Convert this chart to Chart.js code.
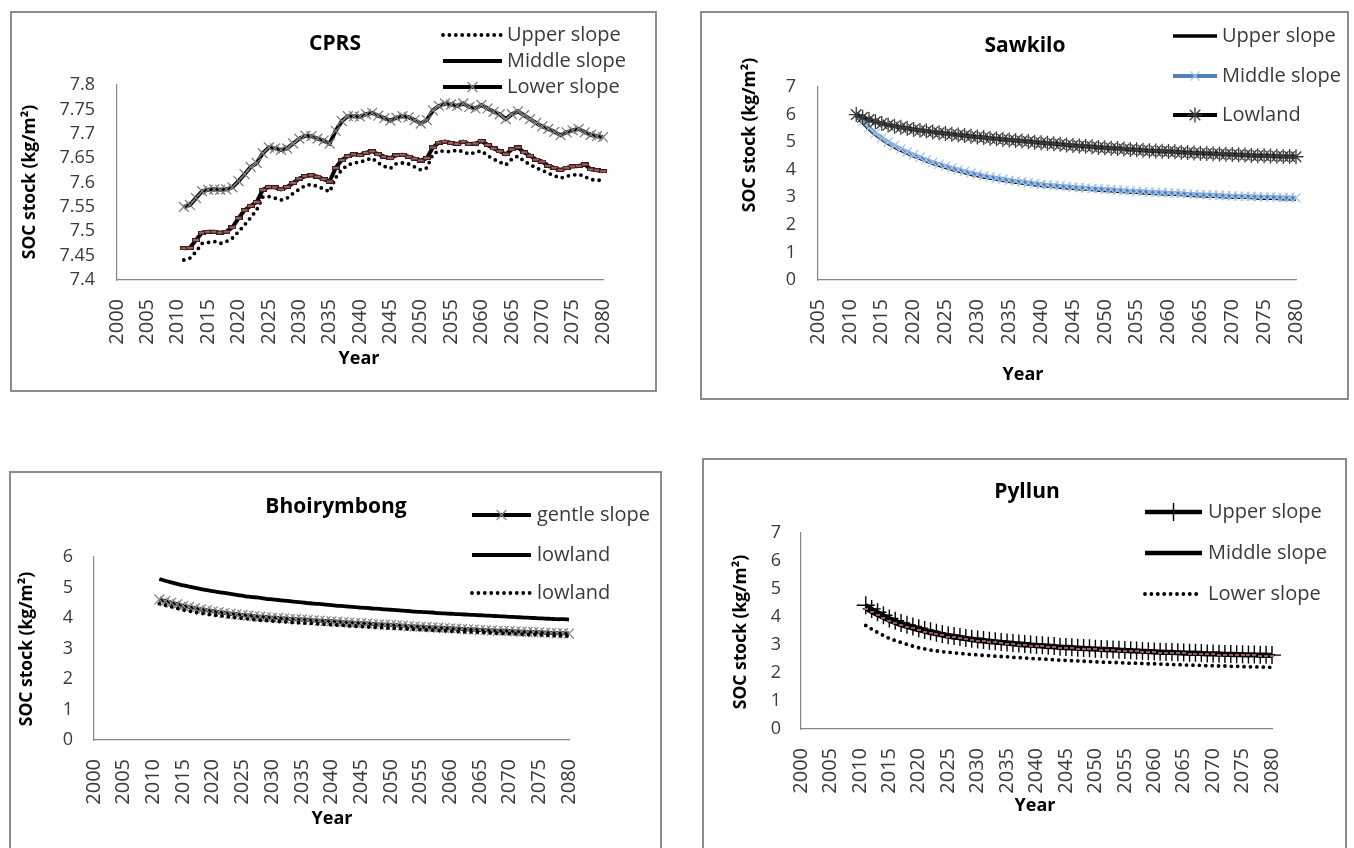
<!DOCTYPE html>
<html><head><meta charset="utf-8">
<script src="https://cdn.jsdelivr.net/npm/chart.js@4.4.1/dist/chart.umd.min.js"></script>
<style>
html,body{margin:0;padding:0;background:#fff;width:1354px;height:848px;overflow:hidden;position:relative;}
.frame{position:absolute;border:2px solid #8c8c8c;box-sizing:border-box;}
canvas{position:absolute;}
</style></head><body>
<script>
// ---------------- DATA ----------------
const years = [2011,2012,2013,2014,2015,2016,2017,2018,2019,2020,
2021,2022,2023,2024,2025,2026,2027,2028,2029,2030,
2031,2032,2033,2034,2035,2036,2037,2038,2039,2040,
2041,2042,2043,2044,2045,2046,2047,2048,2049,2050,
2051,2052,2053,2054,2055,2056,2057,2058,2059,2060,
2061,2062,2063,2064,2065,2066,2067,2068,2069,2070,
2071,2072,2073,2074,2075,2076,2077,2078,2079,2080];

// CPRS
const cprsUpper = [7.441,7.445,7.458,7.475,7.477,7.479,7.475,7.479,7.486,7.499,
7.513,7.528,7.544,7.570,7.571,7.568,7.564,7.568,7.578,7.586,
7.594,7.596,7.592,7.587,7.581,7.610,7.626,7.636,7.640,7.642,
7.646,7.650,7.640,7.633,7.629,7.639,7.640,7.638,7.632,7.626,
7.630,7.658,7.665,7.664,7.663,7.667,7.663,7.658,7.662,7.665,
7.655,7.648,7.642,7.636,7.648,7.654,7.644,7.637,7.630,7.625,
7.619,7.614,7.609,7.613,7.615,7.617,7.612,7.606,7.605,7.604];
const cprsMiddle = [7.465,7.466,7.482,7.497,7.499,7.499,7.497,7.499,7.508,7.527,
7.543,7.552,7.560,7.585,7.591,7.590,7.586,7.591,7.599,7.608,
7.613,7.615,7.612,7.607,7.602,7.630,7.646,7.654,7.658,7.656,
7.661,7.664,7.658,7.653,7.650,7.656,7.657,7.653,7.649,7.645,
7.650,7.672,7.682,7.684,7.681,7.679,7.684,7.679,7.680,7.685,
7.677,7.670,7.664,7.658,7.668,7.672,7.662,7.655,7.647,7.643,
7.634,7.630,7.626,7.630,7.633,7.634,7.637,7.627,7.625,7.623];
const cprsLower = [7.550,7.554,7.568,7.582,7.585,7.586,7.585,7.586,7.590,7.603,
7.617,7.632,7.640,7.660,7.672,7.670,7.667,7.670,7.680,7.690,
7.696,7.695,7.690,7.686,7.680,7.706,7.726,7.736,7.736,7.735,
7.740,7.743,7.737,7.732,7.727,7.733,7.736,7.734,7.728,7.721,
7.728,7.748,7.757,7.762,7.760,7.757,7.762,7.755,7.752,7.759,
7.752,7.745,7.740,7.730,7.740,7.746,7.738,7.730,7.722,7.715,
7.710,7.704,7.697,7.703,7.707,7.710,7.703,7.698,7.695,7.693];

// Sawkilo
const sawUpper = [5.96,5.71,5.48,5.28,5.11,4.96,4.83,4.71,4.60,4.50,
4.41,4.32,4.23,4.16,4.09,4.02,3.96,3.90,3.84,3.79,
3.74,3.70,3.66,3.62,3.58,3.55,3.52,3.49,3.46,3.43,
3.41,3.39,3.37,3.35,3.33,3.31,3.30,3.28,3.27,3.25,
3.24,3.22,3.21,3.19,3.18,3.17,3.15,3.14,3.13,3.12,
3.11,3.10,3.08,3.07,3.06,3.05,3.04,3.03,3.02,3.01,
3.00,3.00,2.99,2.98,2.97,2.97,2.96,2.95,2.95,2.94];
const sawMiddle = [6.00,5.75,5.52,5.32,5.15,5.00,4.87,4.75,4.64,4.54,
4.45,4.36,4.27,4.20,4.13,4.06,4.00,3.94,3.88,3.83,
3.78,3.74,3.70,3.66,3.62,3.59,3.56,3.53,3.50,3.47,
3.45,3.43,3.41,3.39,3.37,3.35,3.34,3.32,3.31,3.29,
3.28,3.26,3.25,3.23,3.22,3.21,3.19,3.18,3.17,3.16,
3.15,3.14,3.12,3.11,3.10,3.09,3.08,3.07,3.06,3.05,
3.04,3.04,3.03,3.02,3.01,3.01,3.00,2.99,2.99,2.98];
const sawLowland = [6.00,5.90,5.82,5.74,5.68,5.62,5.58,5.54,5.50,5.46,
5.43,5.40,5.37,5.34,5.31,5.29,5.26,5.24,5.21,5.19,
5.17,5.14,5.12,5.10,5.08,5.06,5.04,5.02,5.00,4.98,
4.96,4.94,4.92,4.90,4.88,4.86,4.85,4.83,4.81,4.80,
4.78,4.77,4.75,4.73,4.72,4.71,4.69,4.68,4.67,4.66,
4.65,4.63,4.62,4.61,4.60,4.59,4.58,4.57,4.56,4.55,
4.54,4.53,4.52,4.51,4.51,4.50,4.49,4.48,4.48,4.47];

// Bhoirymbong
const bhoGentle = [4.61,4.55,4.50,4.45,4.40,4.36,4.32,4.28,4.25,4.22,
4.19,4.17,4.14,4.12,4.10,4.08,4.06,4.04,4.03,4.01,
4.00,3.98,3.97,3.96,3.95,3.94,3.92,3.91,3.90,3.89,
3.88,3.86,3.85,3.84,3.83,3.82,3.80,3.79,3.78,3.77,
3.76,3.75,3.73,3.72,3.71,3.70,3.69,3.68,3.67,3.66,
3.65,3.64,3.63,3.62,3.61,3.60,3.59,3.58,3.58,3.57,
3.56,3.55,3.54,3.54,3.53,3.52,3.51,3.50,3.50,3.49];
const bhoLowland = [5.28,5.22,5.17,5.12,5.07,5.03,4.99,4.95,4.91,4.88,
4.85,4.82,4.79,4.76,4.73,4.70,4.68,4.66,4.63,4.61,
4.59,4.57,4.55,4.53,4.51,4.49,4.47,4.46,4.44,4.42,
4.40,4.39,4.37,4.36,4.34,4.33,4.31,4.30,4.28,4.27,
4.26,4.24,4.23,4.21,4.20,4.19,4.18,4.16,4.15,4.14,
4.13,4.12,4.11,4.10,4.09,4.08,4.07,4.06,4.05,4.04,
4.03,4.02,4.01,4.00,3.99,3.98,3.97,3.96,3.96,3.95];
const bhoLowlandDot = [4.47,4.42,4.37,4.32,4.27,4.23,4.19,4.16,4.13,4.10,
4.08,4.06,4.03,4.01,3.99,3.97,3.95,3.93,3.92,3.90,
3.89,3.88,3.86,3.85,3.84,3.83,3.82,3.80,3.79,3.78,
3.77,3.76,3.74,3.73,3.72,3.71,3.70,3.69,3.68,3.67,
3.66,3.65,3.64,3.63,3.62,3.61,3.60,3.59,3.58,3.57,
3.56,3.55,3.55,3.54,3.53,3.52,3.51,3.50,3.50,3.49,
3.48,3.47,3.46,3.46,3.45,3.44,3.43,3.42,3.42,3.41];

// Pyllun
const pylUpper = [4.42,4.29,4.17,4.06,3.95,3.87,3.79,3.72,3.66,3.60,
3.54,3.49,3.44,3.39,3.35,3.32,3.29,3.25,3.22,3.20,
3.18,3.15,3.13,3.11,3.09,3.07,3.05,3.04,3.02,3.00,
2.99,2.97,2.96,2.94,2.93,2.92,2.90,2.89,2.88,2.87,
2.86,2.85,2.84,2.83,2.82,2.81,2.80,2.79,2.78,2.77,
2.76,2.75,2.75,2.74,2.73,2.72,2.72,2.71,2.70,2.70,
2.69,2.68,2.68,2.67,2.67,2.66,2.66,2.65,2.65,2.64];
const pylMiddle = [4.30,4.18,4.07,3.97,3.87,3.79,3.71,3.65,3.59,3.53,
3.48,3.43,3.38,3.34,3.30,3.27,3.24,3.21,3.18,3.15,
3.13,3.11,3.09,3.07,3.05,3.03,3.01,2.99,2.98,2.96,
2.95,2.93,2.92,2.90,2.89,2.88,2.87,2.86,2.85,2.84,
2.83,2.82,2.81,2.80,2.79,2.78,2.77,2.76,2.75,2.74,
2.73,2.72,2.72,2.71,2.70,2.69,2.69,2.68,2.67,2.67,
2.66,2.65,2.65,2.64,2.64,2.63,2.63,2.62,2.62,2.61];
const pylLower = [3.70,3.57,3.45,3.34,3.24,3.16,3.09,3.02,2.96,2.90,
2.86,2.82,2.79,2.76,2.74,2.72,2.70,2.68,2.66,2.65,
2.63,2.62,2.60,2.59,2.58,2.56,2.55,2.54,2.52,2.51,
2.50,2.49,2.47,2.46,2.45,2.44,2.43,2.42,2.41,2.40,
2.39,2.38,2.38,2.37,2.36,2.35,2.35,2.34,2.33,2.33,
2.32,2.31,2.30,2.30,2.29,2.28,2.28,2.27,2.26,2.26,
2.25,2.25,2.24,2.24,2.23,2.22,2.22,2.21,2.21,2.20];

const titles = ['CPRS', 'Sawkilo', 'Bhoirymbong', 'Pyllun'];
const cprsLabels = ['Upper slope', 'Middle slope', 'Lower slope'];
const sawLabels = ['Upper slope', 'Middle slope', 'Lowland'];
const bhoLabels = ['gentle slope', 'lowland', 'lowland'];
const pylLabels = ['Upper slope', 'Middle slope', 'Lower slope'];
const yAxisTitle = 'SOC stock (kg/m\u00B2)';
const xAxisTitle = 'Year';

// ---------------- STYLE / LAYOUT ----------------
const FONT = '"Open Sans", "DejaVu Sans", sans-serif';
const PAGE_H = 848;

function barMarker(w, h, fill, stroke) {
  const c = document.createElement('canvas');
  c.width = w; c.height = h;
  const g = c.getContext('2d');
  g.fillStyle = fill; g.fillRect(0, 0, w, h);
  g.strokeStyle = stroke; g.lineWidth = 1; g.strokeRect(0.5, 0.5, w - 1, h - 1);
  return c;
}
const brownBar = barMarker(8, 4, '#a0615e', '#3b1d1c');
const redDash = barMarker(4, 2, '#9a5a56', '#9a5a56');

const dotStyle = {borderColor:'#000', borderWidth:3.8, borderDash:[0, 6.4], borderCapStyle:'round', pointRadius:0};
const solid = (w) => ({borderColor:'#000', borderWidth:w, pointRadius:0});

const panels = [
  { frame:{x:10,y:11,w:647,h:381}, plot:{l:117,t:85,r:603,b:280},
    x:{min:2000,max:2080}, y:{min:7.4,max:7.8,step:0.05}, yPad:22, tension:0,
    title:{text:titles[0],x:335,y:44}, yTitle:{x:30,y:182}, xTitle:{x:359,y:359},
    legend:{x1:443,x2:502,tx:507,rows:[35,61,87],markers:[false,false,true]},
    series:[
      {label:cprsLabels[0], data:cprsUpper, style:dotStyle},
      {label:cprsLabels[1], data:cprsMiddle, style:{borderColor:'#000', borderWidth:4, pointStyle:brownBar, pointRadius:4}},
      {label:cprsLabels[2], data:cprsLower, style:{borderColor:'#000', borderWidth:4, pointStyle:'crossRot', pointRadius:7, pointBorderColor:'#808080', pointBorderWidth:1.3}}
    ]},
  { frame:{x:700,y:11,w:649,h:389}, plot:{l:818,t:87,r:1296,b:280},
    x:{min:2005,max:2080}, y:{min:0,max:7,step:1}, yPad:22, tension:0.3,
    title:{text:titles[1],x:1025,y:46}, yTitle:{x:750,y:135}, xTitle:{x:1023,y:375},
    legend:{x1:1173,x2:1217,tx:1222,rows:[36,76,115],markers:[false,true,true]},
    series:[
      {label:sawLabels[0], data:sawUpper, style:solid(3.6)},
      {label:sawLabels[1], data:sawMiddle, style:{borderColor:'#4f81bd', borderWidth:4, pointStyle:'crossRot', pointRadius:6.5, pointBorderColor:'#a9c6ea', pointBorderWidth:1.3}},
      {label:sawLabels[2], data:sawLowland, style:{borderColor:'#000', borderWidth:4, pointStyle:'star', pointRadius:7.5, pointBorderColor:'#3a3a3a', pointBorderWidth:1.3}}
    ]},
  { frame:{x:9,y:471,w:653,h:400}, plot:{l:94,t:557,r:569,b:740},
    x:{min:2000,max:2080}, y:{min:0,max:6,step:1}, yPad:21, tension:0.3,
    title:{text:titles[2],x:336,y:507}, yTitle:{x:27,y:649}, xTitle:{x:332,y:819},
    legend:{x1:472,x2:531,tx:537,rows:[515,555,593],markers:[true,false,false]},
    series:[
      {label:bhoLabels[0], data:bhoGentle, style:{borderColor:'#000', borderWidth:4, pointStyle:'crossRot', pointRadius:7, pointBorderColor:'#8a8a8a', pointBorderWidth:1.3}},
      {label:bhoLabels[1], data:bhoLowland, style:solid(3.8)},
      {label:bhoLabels[2], data:bhoLowlandDot, style:dotStyle}
    ]},
  { frame:{x:702,y:458,w:645,h:400}, plot:{l:801,t:533,r:1272,b:729},
    x:{min:2000,max:2080}, y:{min:0,max:7,step:1}, yPad:20, tension:0.3,
    title:{text:titles[3],x:1027,y:492}, yTitle:{x:741,y:632}, xTitle:{x:1035,y:806},
    legend:{x1:1145,x2:1202,tx:1208,rows:[512,553,594],markers:[true,false,false]},
    series:[
      {label:pylLabels[0], data:pylUpper, style:{borderColor:'#000', borderWidth:4.5, pointStyle:'cross', pointRadius:9, pointBorderColor:'#000', pointBorderWidth:1.4}},
      {label:pylLabels[1], data:pylMiddle, style:{borderColor:'#000', borderWidth:4.5, pointStyle:redDash, pointRadius:2}},
      {label:pylLabels[2], data:pylLower, style:dotStyle}
    ]}
];

function pts(vals) { return years.map((yr, i) => ({x: yr, y: vals[i]})); }

function decor(p) {
  return {
    id: 'decor',
    afterDraw(chart) {
      const ctx = chart.ctx, ox = p.frame.x, oy = p.frame.y;
      ctx.save();
      ctx.textBaseline = 'middle';
      ctx.fillStyle = '#000';
      ctx.textAlign = 'center';
      ctx.font = 'bold 21px ' + FONT;
      ctx.fillText(p.title.text, p.title.x - ox, p.title.y - oy);
      ctx.font = 'bold 18px ' + FONT;
      ctx.fillText(xAxisTitle, p.xTitle.x - ox, p.xTitle.y - oy);
      ctx.save();
      ctx.translate(p.yTitle.x - ox, p.yTitle.y - oy);
      ctx.rotate(-Math.PI / 2);
      ctx.font = 'bold 17.5px ' + FONT;
      ctx.fillText(yAxisTitle, 0, 0);
      ctx.restore();
      p.legend.rows.forEach((ry, i) => {
        const ds = chart.data.datasets[i];
        const y = ry - oy, x1 = p.legend.x1 - ox, x2 = p.legend.x2 - ox;
        ctx.save();
        ctx.strokeStyle = ds.borderColor;
        ctx.lineWidth = ds.borderWidth;
        ctx.setLineDash(ds.borderDash || []);
        ctx.lineCap = ds.borderCapStyle || 'butt';
        ctx.beginPath(); ctx.moveTo(x1, y); ctx.lineTo(x2, y); ctx.stroke();
        ctx.restore();
        if (p.legend.markers[i]) {
          ctx.save();
          ctx.strokeStyle = ds.pointBorderColor;
          ctx.fillStyle = ds.pointBorderColor;
          ctx.lineWidth = ds.pointBorderWidth;
          Chart.helpers.drawPoint(ctx, {pointStyle: ds.pointStyle, radius: ds.pointRadius, rotation: 0, borderWidth: ds.pointBorderWidth}, (x1 + x2) / 2, y);
          ctx.restore();
        }
        ctx.fillStyle = '#3a3a3a';
        ctx.textAlign = 'left';
        ctx.font = '20px ' + FONT;
        ctx.fillText(ds.label, p.legend.tx - ox, y);
      });
      ctx.restore();
    }
  };
}

panels.forEach((p) => {
  const fr = document.createElement('div');
  fr.className = 'frame';
  fr.style.left = p.frame.x + 'px'; fr.style.top = p.frame.y + 'px';
  fr.style.width = p.frame.w + 'px'; fr.style.height = p.frame.h + 'px';
  document.body.appendChild(fr);

  const cw = p.frame.w, ch = Math.min(p.frame.h, PAGE_H - p.frame.y);
  const cv = document.createElement('canvas');
  cv.width = cw; cv.height = ch;
  cv.style.left = p.frame.x + 'px'; cv.style.top = p.frame.y + 'px';
  cv.style.width = cw + 'px'; cv.style.height = ch + 'px';
  document.body.appendChild(cv);

  const xH = 70;
  const padT = p.plot.t - p.frame.y;
  const padR = p.frame.x + cw - p.plot.r;
  const padB = ch - (p.plot.b - p.frame.y) - xH;
  const yW = p.plot.l - p.frame.x;
  const n = p.series.length;

  new Chart(cv, {
    type: 'line',
    data: {
      datasets: p.series.map((s, i) => Object.assign({
        label: s.label, data: pts(s.data), order: n - i, fill: false, clip: false, tension: p.tension
      }, s.style))
    },
    options: {
      responsive: false, animation: false, events: [],
      layout: {padding: {left: 0, top: padT, right: padR, bottom: padB}},
      plugins: {legend: {display: false}, title: {display: false}, tooltip: {enabled: false}},
      scales: {
        x: {
          type: 'linear', position: 'bottom', min: p.x.min, max: p.x.max,
          grid: {display: false, drawTicks: false},
          border: {display: true, color: '#868686', width: 1.2},
          ticks: {stepSize: 5, autoSkip: false, minRotation: 90, maxRotation: 90, padding: 19,
                  color: '#3a3a3a', font: {family: FONT, size: 20}, callback: (v) => String(v)},
          afterFit: (s) => { s.height = xH; }
        },
        y: {
          type: 'linear', position: 'left', min: p.y.min, max: p.y.max,
          grid: {display: false, drawTicks: false},
          border: {display: true, color: '#868686', width: 1.2},
          ticks: {stepSize: p.y.step, autoSkip: false, padding: p.yPad, color: '#3a3a3a', font: {family: FONT, size: 18},
                  callback: (v) => String(Math.round(v * 100) / 100)},
          afterFit: (s) => { s.width = yW; }
        }
      }
    },
    plugins: [decor(p)]
  });
});
</script>
</body></html>
